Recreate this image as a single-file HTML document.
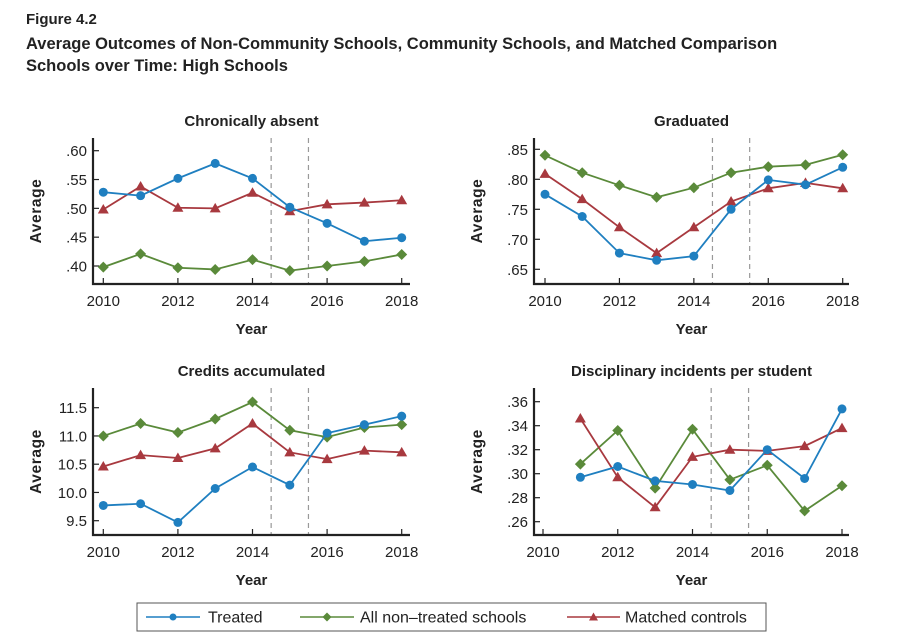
<!DOCTYPE html>
<html><head><meta charset="utf-8"><style>
body{margin:0;background:#fff;}
svg{display:block;font-family:"Liberation Sans",sans-serif;}
</style></head><body>
<svg id="chart" width="905" height="643" viewBox="0 0 905 643">
<text x="26" y="24" font-size="15" font-weight="bold" fill="#222">Figure 4.2</text>
<text x="26" y="49" font-size="16.5" font-weight="bold" fill="#222">Average Outcomes of Non-Community Schools, Community Schools, and Matched Comparison</text>
<text x="26" y="71" font-size="16.5" font-weight="bold" fill="#222">Schools over Time: High Schools</text>
<g id="panels"></g>
<g>
<rect x="137" y="603" width="629" height="28" fill="none" stroke="#555" stroke-width="1"/>
<line x1="146" y1="617" x2="200" y2="617" stroke="#1f7fc0" stroke-width="1.6"/><circle cx="173" cy="617" r="3.5" fill="#1f7fc0"/>
<text x="208" y="622.5" font-size="16" fill="#222">Treated</text>
<line x1="300" y1="617" x2="354" y2="617" stroke="#5a8a3a" stroke-width="1.6"/><path d="M327 612.5 L331.5 617 L327 621.5 L322.5 617Z" fill="#5a8a3a"/>
<text x="360" y="622.5" font-size="16" fill="#222">All non–treated schools</text>
<line x1="567" y1="617" x2="620" y2="617" stroke="#a8393f" stroke-width="1.6"/><path d="M593.5 612.5 L598 620.5 L589 620.5Z" fill="#a8393f"/>
<text x="625" y="622.5" font-size="16" fill="#222">Matched controls</text>
</g>
</svg>
<script>
const years=[2010,2011,2012,2013,2014,2015,2016,2017,2018];
const yearsDisc=[2011,2012,2013,2014,2015,2016,2017,2018];
const xTicks=[2010,2012,2014,2016,2018];
const absTreated=[.528,.522,.552,.578,.552,.502,.474,.443,.449];
const absNon=[.398,.421,.397,.394,.411,.392,.400,.408,.420];
const absMatched=[.498,.538,.501,.500,.527,.495,.507,.510,.514];
const absTicks=[.40,.45,.50,.55,.60];
const absLabels=[".40",".45",".50",".55",".60"];
const gradTreated=[.775,.738,.677,.665,.672,.750,.799,.791,.820];
const gradNon=[.840,.811,.790,.770,.786,.811,.821,.824,.841];
const gradMatched=[.809,.767,.720,.677,.720,.763,.785,.794,.785];
const gradTicks=[.65,.70,.75,.80,.85];
const gradLabels=[".65",".70",".75",".80",".85"];
const credTreated=[9.77,9.80,9.47,10.07,10.45,10.13,11.05,11.20,11.35];
const credNon=[11.00,11.22,11.06,11.30,11.60,11.10,10.98,11.15,11.20];
const credMatched=[10.46,10.66,10.61,10.78,11.22,10.71,10.59,10.74,10.71];
const credTicks=[9.5,10.0,10.5,11.0,11.5];
const credLabels=["9.5","10.0","10.5","11.0","11.5"];
const discTreated=[.297,.306,.294,.291,.286,.320,.296,.354];
const discNon=[.308,.336,.288,.337,.295,.307,.269,.290];
const discMatched=[.346,.297,.272,.314,.320,.319,.323,.338];
const discTicks=[.26,.28,.30,.32,.34,.36];
const discLabels=[".26",".28",".30",".32",".34",".36"];

const NS="http://www.w3.org/2000/svg";
const root=document.getElementById('panels');
function el(tag,attrs,parent){const e=document.createElementNS(NS,tag);for(const k in attrs)e.setAttribute(k,attrs[k]);parent.appendChild(e);return e;}
const C={t:"#1f7fc0",n:"#5a8a3a",m:"#a8393f"};
function panel(cfg){
  const g=el('g',{},root);
  
  
  const xs=v=>cfg.x0+(v-2010)*(cfg.x1-cfg.x0)/8;
  const ys=v=>cfg.y0+(v-cfg.v0)*(cfg.y1-cfg.y0)/(cfg.v1-cfg.v0);
  const t=el('text',{x:(cfg.ax+cfg.right)/2,y:cfg.top-12,'font-size':15,'font-weight':'bold','text-anchor':'middle',fill:'#222'},g);t.textContent=cfg.title;
  
  
  [2014.5,2015.5].forEach(v=>{const l=el('line',{x1:xs(v),x2:xs(v),y1:cfg.top,y2:cfg.base,stroke:'#999','stroke-dasharray':'5,4','stroke-width':1.2},g);
    
    });
  el('path',{d:`M${cfg.ax} ${cfg.top} V${cfg.base} H${cfg.right}`,fill:'none',stroke:'#222','stroke-width':2.2},g);
  cfg.ticks.forEach((v,i)=>{const y=ys(v);el('line',{x1:cfg.ax,x2:cfg.ax+6,y1:y,y2:y,stroke:'#222','stroke-width':1.2},g);
    const tl=el('text',{x:cfg.ax-6,y:y+5.5,'font-size':15,'text-anchor':'end',fill:'#222'},g);tl.textContent=cfg.labels[i];
    
    });
  xTicks.forEach(v=>{const x=xs(v);el('line',{x1:x,x2:x,y1:cfg.base,y2:cfg.base-6,stroke:'#222','stroke-width':1.2},g);
    const tl=el('text',{x:x,y:cfg.base+22,'font-size':15,'text-anchor':'middle',fill:'#222'},g);tl.textContent=v;
    
    });
  const xt=el('text',{x:(cfg.ax+cfg.right)/2,y:cfg.base+50,'font-size':15,'font-weight':'bold','text-anchor':'middle',fill:'#222'},g);xt.textContent='Year';
  
  
  const yc=(cfg.top+cfg.base)/2, yx=cfg.ax-52;
  const yt=el('text',{x:yx,y:yc,'font-size':15.5,'font-weight':'bold','text-anchor':'middle',fill:'#222',transform:`rotate(-90 ${yx} ${yc})`,'letter-spacing':'0.6'},g);yt.textContent='Average';
  
  
  const series=[[cfg.n,C.n,'d','non-treated'],[cfg.m,C.m,'t','matched'],[cfg.t,C.t,'c','treated']];
  series.forEach(([vals,col,shape,nm])=>{
    const pts=vals.map((v,i)=>[xs(cfg.yrs[i]),ys(v)]);
    const pl=el('polyline',{points:pts.map(p=>p.join(',')).join(' '),fill:'none',stroke:col,'stroke-width':1.8},g);
    
    
    pts.forEach(([x,y])=>{let m;
      if(shape==='c')m=el('circle',{cx:x,cy:y,r:4.5,fill:col},g);
      else if(shape==='d')m=el('path',{d:`M${x} ${y-5.5}L${x+5.5} ${y}L${x} ${y+5.5}L${x-5.5} ${y}Z`,fill:col},g);
      else m=el('path',{d:`M${x} ${y-5.5}L${x+5.5} ${y+4}L${x-5.5} ${y+4}Z`,fill:col},g);
      
      });
  });
}
panel({name:'panel-chronically-absent',title:'Chronically absent',ax:93,right:410,top:138,base:284,x0:103.3,x1:401.7,v0:.40,v1:.60,y0:266,y1:150.7,ticks:absTicks,labels:absLabels,yrs:years,t:absTreated,n:absNon,m:absMatched});
panel({name:'panel-graduated',title:'Graduated',ax:534,right:849,top:138,base:284,x0:545,x1:842.7,v0:.65,v1:.85,y0:269.3,y1:149.3,ticks:gradTicks,labels:gradLabels,yrs:years,t:gradTreated,n:gradNon,m:gradMatched});
panel({name:'panel-credits',title:'Credits accumulated',ax:93,right:410,top:388,base:535,x0:103.3,x1:401.7,v0:9.5,v1:11.5,y0:520.7,y1:407.7,ticks:credTicks,labels:credLabels,yrs:years,t:credTreated,n:credNon,m:credMatched});
panel({name:'panel-disciplinary',title:'Disciplinary incidents per student',ax:534,right:849,top:388,base:535,x0:543,x1:842,v0:.26,v1:.36,y0:521.7,y1:401.7,ticks:discTicks,labels:discLabels,yrs:yearsDisc,t:discTreated,n:discNon,m:discMatched});
</script>
</body></html>
